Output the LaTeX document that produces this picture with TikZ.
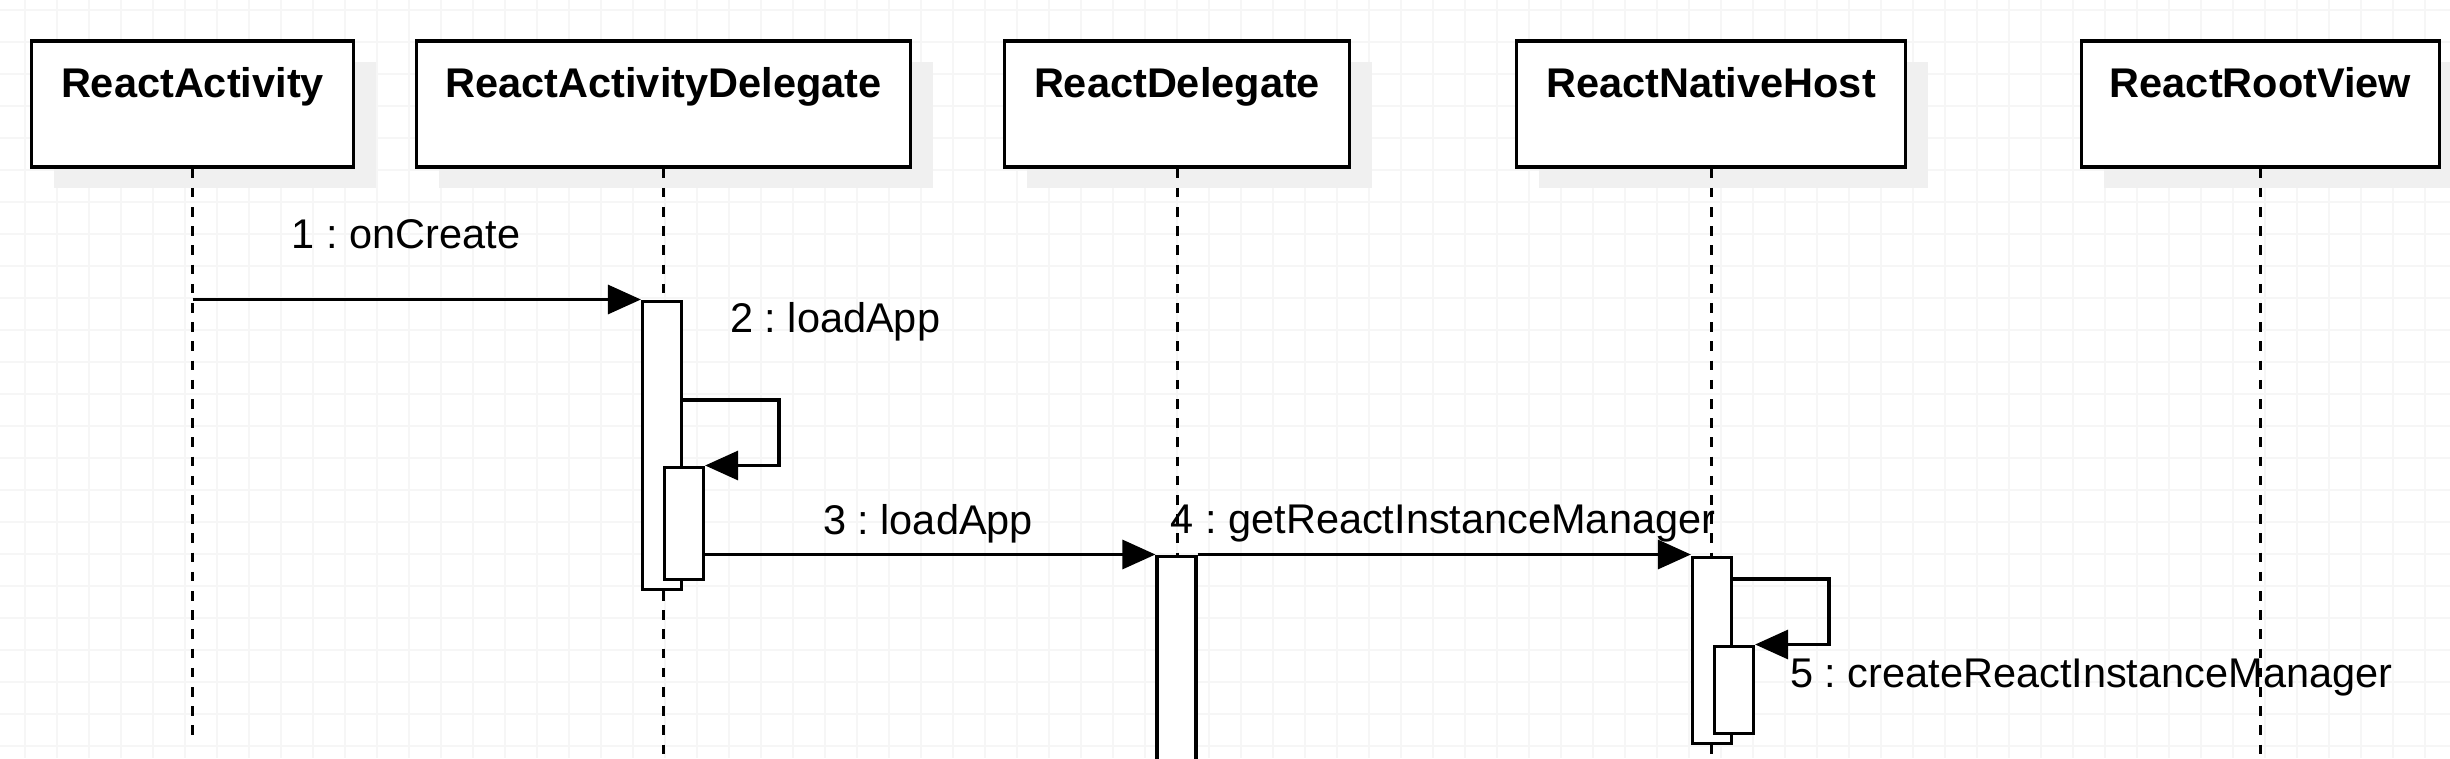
\documentclass[tikz,border=0pt]{standalone}
\usepackage{fontspec}
\setmainfont{Liberation Sans}
\usetikzlibrary{arrows.meta, shadows}
\frenchspacing

\tikzset{
  head/.style={draw, line width=3.2pt, fill=white, inner sep=0pt, anchor=base,
    text height=56pt, text depth=70pt, font=\fontsize{41.5}{50}\selectfont\bfseries,
    drop shadow={shadow xshift=22pt, shadow yshift=-21pt, fill=black!6, opacity=1}},
  lifeline/.style={line width=3pt, dash pattern=on 9.6pt off 9.6pt},
  actbox/.style={draw, line width=3.2pt, fill=white, inner sep=0pt, minimum width=39pt, anchor=north},
  msg/.style={line width=3.2pt, -{Triangle[length=33pt,width=29pt]}},
  msglabel/.style={inner sep=0pt, font=\fontsize{41.5}{50}\selectfont},
  gridline/.style={black!3.5, line width=1.2pt}
}

\begin{document}
\begin{tikzpicture}[x=1pt, y=-1pt]
    \useasboundingbox (0,0) rectangle (2450,758);
    \clip (0,0) rectangle (2450,758);
    \fill[white] (0,0) rectangle (2450,758);
    \foreach \gx in {25,57,...,2450} \draw[gridline] (\gx,0) -- (\gx,758);
    \foreach \gy in {10,42,...,758} \draw[gridline] (0,\gy) -- (2450,\gy);

    \node[head, minimum width=322pt] (ra) at (192.5,97) {ReactActivity};
    \node[head, minimum width=494pt] (rad) at (663.5,97) {ReactActivityDelegate};
    \node[head, minimum width=345pt] (rd) at (1177,97) {ReactDelegate};
    \node[head, minimum width=389pt] (rnh) at (1711,97) {ReactNativeHost};
    \node[head, minimum width=358pt] (rrv) at (2260.5,97) {ReactRootView};

    \coordinate (raend) at (194,737);
    \coordinate (bottom) at (0,770);
    \draw[lifeline] (ra.south) -- (ra.south |- raend);
    \draw[lifeline] (rad.south) -- (rad.south |- bottom);
    \draw[lifeline] (rd.south) -- (rd.south |- bottom);
    \draw[lifeline] (rnh.south) -- (rnh.south |- bottom);
    \draw[lifeline] (rrv.south) -- (rrv.south |- bottom);

    \node[actbox, minimum height=288pt] (act1) at (662,299.5) {};
    \node[actbox, minimum height=112pt] (act2) at (684,465.5) {};
    \node[actbox, minimum height=300pt] (act3) at (1176.5,554.5) {};
    \node[actbox, minimum height=186pt] (act4) at (1712,555.5) {};
    \node[actbox, minimum height=87pt] (act5) at (1734,644.5) {};

    \coordinate (turn2) at (779,400);
    \coordinate (turn5) at (1829,579);
    \draw[msg] (ra.south |- act1.north west) -- (act1.north west);
    \draw[msg] (act1.east |- turn2) -- (turn2) |- (act2.north east);
    \draw[msg] (act2.east |- act3.north west) -- (act3.north west);
    \draw[msg] (act3.north east) -- (act3.north east -| act4.west);
    \draw[msg] (act4.east |- turn5) -- (turn5) |- (act5.north east);

    \node[msglabel, anchor=base] (l1) at (406,248) {1 : onCreate};
    \node[msglabel, anchor=base west] (l2) at (730,332) {2 : loadApp};
    \node[msglabel, anchor=base] (l3) at (928,534) {3 : loadApp};
    \node[msglabel, anchor=base] (l4) at (1443,533) {4 : getReactInstanceManager};
    \node[msglabel, anchor=base west] (l5) at (1790,687) {5 : createReactInstanceManager};
\end{tikzpicture}
\end{document}
